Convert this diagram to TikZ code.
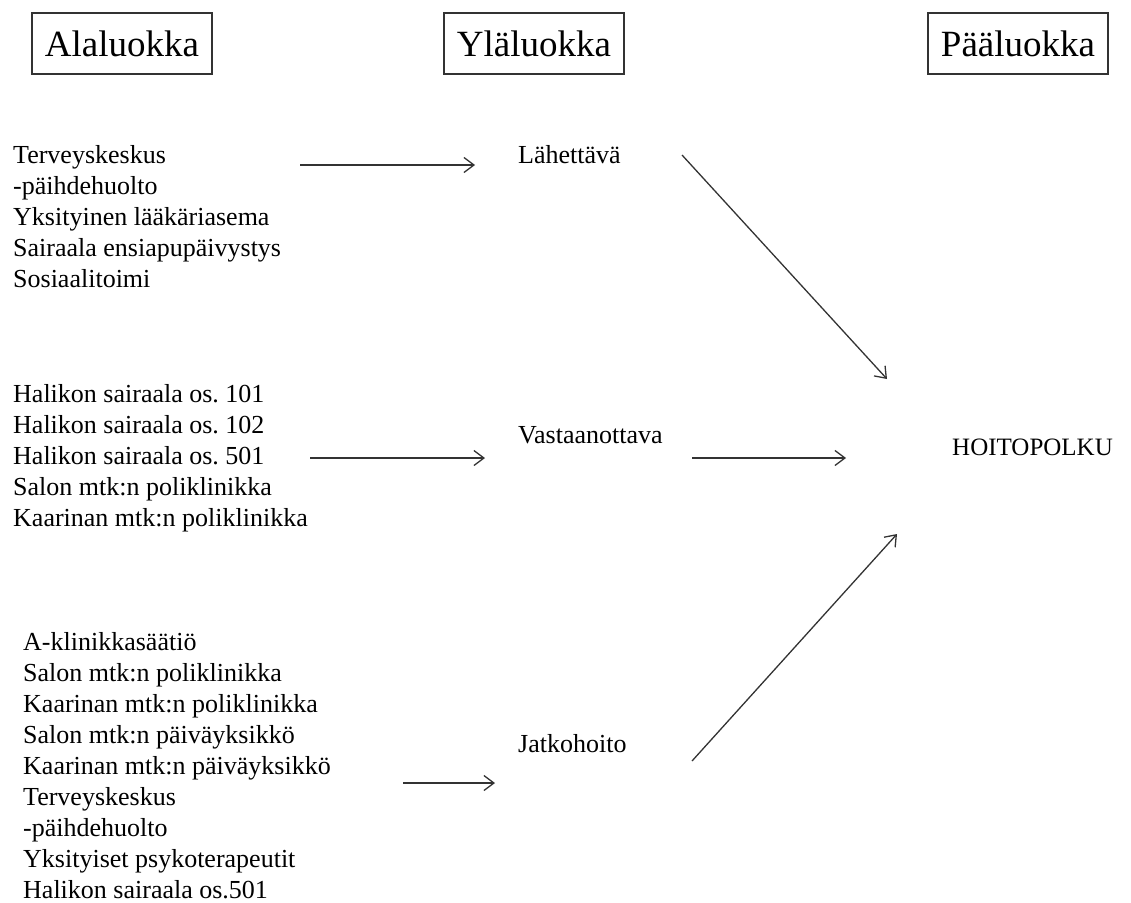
\documentclass[tikz,border=0pt]{standalone}
\usepackage{fontspec}
\setmainfont{Liberation Serif}
\usetikzlibrary{arrows.meta}
\begin{document}
\frenchspacing
\begin{tikzpicture}[x=1pt,y=-1pt,
  hdr/.style={draw=black!80, line width=1.2pt, minimum width=180pt, minimum height=61pt, inner sep=0pt, font=\fontsize{37}{40}\selectfont},
  lst/.style={align=left, anchor=north west, inner sep=0pt, font=\fontsize{26}{31}\selectfont},
  lbl/.style={anchor=base west, inner sep=0pt, font=\fontsize{26}{31}\selectfont},
  arr/.style={draw=black!80, line width=1.3pt, -{Straight Barb[length=10pt,width=15pt]}}]
\useasboundingbox (0,0) rectangle (1131,902);

% headers
\node[hdr] (h1) at (122,43.5) {Alaluokka};
\node[hdr] (h2) at (534,43.5) {Yläluokka};
\node[hdr] (h3) at (1018,43.5) {Pääluokka};

% left lists
\node[lst] (g1) at (13,141.3) {\strut Terveyskeskus\\-päihdehuolto\\Yksityinen lääkäriasema\\Sairaala ensiapupäivystys\\Sosiaalitoimi};
\node[lst] (g2) at (13,380.3) {\strut Halikon sairaala os. 101\\Halikon sairaala os. 102\\Halikon sairaala os. 501\\Salon mtk:n poliklinikka\\Kaarinan mtk:n poliklinikka};
\node[lst] (g3) at (23,628.3) {\strut A-klinikkasäätiö\\Salon mtk:n poliklinikka\\Kaarinan mtk:n poliklinikka\\Salon mtk:n päiväyksikkö\\Kaarinan mtk:n päiväyksikkö\\Terveyskeskus\\-päihdehuolto\\Yksityiset psykoterapeutit\\Halikon sairaala os.501};

% middle labels
\node[lbl] (lah) at (518,163) {Lähettävä};
\node[lbl] (vas) at (518,443) {Vastaanottava};
\node[lbl] (jat) at (518,752) {Jatkohoito};

% main class
\node[lbl, font=\fontsize{25}{30}\selectfont] (hoi) at (952,455) {HOITOPOLKU};

% arrows left -> middle
\draw[arr] ([xshift=287pt,yshift=-23.7pt]g1.north west) -- ([xshift=-43pt,yshift=-2pt]lah.base west);
\draw[arr] ([xshift=297pt,yshift=-77.7pt]g2.north west) -- ([xshift=-33pt,yshift=-15pt]vas.base west);
\draw[arr] ([xshift=380pt,yshift=-154.7pt]g3.north west) -- ([xshift=-23pt,yshift=-31pt]jat.base west);

% arrows middle -> HOITOPOLKU
\draw[arr] ([xshift=164pt,yshift=8pt]lah.base west) -- ([xshift=-65pt,yshift=76pt]hoi.base west);
\draw[arr] ([xshift=174pt,yshift=-15pt]vas.base west) -- ([xshift=-106pt,yshift=-3pt]hoi.base west);
\draw[arr] ([xshift=174pt,yshift=-9pt]jat.base west) -- ([xshift=-55pt,yshift=-79pt]hoi.base west);
\end{tikzpicture}
\end{document}
